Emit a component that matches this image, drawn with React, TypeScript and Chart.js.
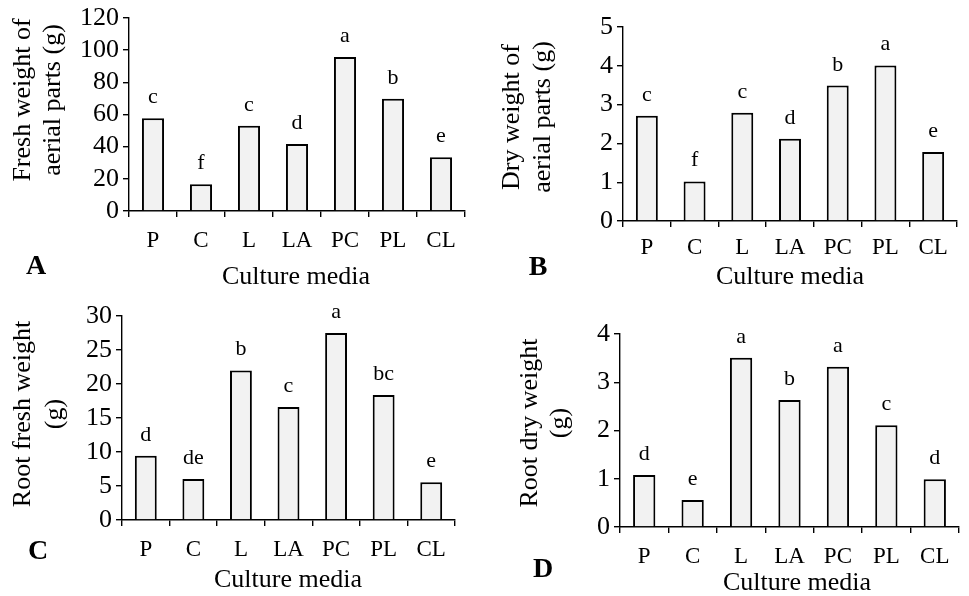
import React, { useEffect, useRef } from "react";
import { Chart, registerables } from "chart.js";

Chart.register(...registerables);

// ---------- data ----------
const categories = ["P", "C", "L", "LA", "PC", "PL", "CL"];

const freshAerial = [57.6, 16.6, 53, 41.7, 95.8, 69.8, 33.4];
const freshAerialLetters = ["c", "f", "c", "d", "a", "b", "e"];

const dryAerial = [2.71, 1.02, 2.79, 2.12, 3.49, 4.01, 1.78];
const dryAerialLetters = ["c", "f", "c", "d", "b", "a", "e"];

const rootFresh = [9.46, 6.03, 22.0, 16.6, 27.5, 18.4, 5.54];
const rootFreshLetters = ["d", "de", "b", "c", "a", "bc", "e"];

const rootDry = [1.08, 0.56, 3.51, 2.63, 3.32, 2.11, 0.99];
const rootDryLetters = ["d", "e", "a", "b", "a", "c", "d"];

const xTitle = "Culture media";
const yTitleA = ["Fresh weight of", "aerial parts (g)"];
const yTitleB = ["Dry weight of", "aerial parts (g)"];
const yTitleC = ["Root fresh weight", "(g)"];
const yTitleD = ["Root dry weight", "(g)"];
const panelLabels = ["A", "B", "C", "D"];

const yMaxA = 120, yStepA = 20;
const yMaxB = 5, yStepB = 1;
const yMaxC = 30, yStepC = 5;
const yMaxD = 4, yStepD = 1;

// ---------- layout ----------
const FONT = "'Liberation Serif', 'Times New Roman', serif";

type PanelCfg = {
  values: number[];
  letters: string[];
  yTitle: string[];
  panel: string;
  yMax: number;
  yStep: number;
  box: { left: number; top: number; w: number; h: number };
  pad: { left: number; top: number; right: number; bottom: number };
  xTickPad: number;
  yTitleX: [number, number];
  yTitleY: number;
  letterPos: [number, number];
  xTitlePos: [number, number];
};

const Y_W = 64;
const X_H = 44;

const panels: PanelCfg[] = [
  {
    values: freshAerial, letters: freshAerialLetters, yTitle: yTitleA, panel: panelLabels[0],
    yMax: yMaxA, yStep: yStepA,
    box: { left: 0, top: 0, w: 484, h: 298 },
    pad: { left: 129 - Y_W, top: 18, right: 484 - 465, bottom: 298 - 211 - X_H },
    xTickPad: 10,
    yTitleX: [23, 53], yTitleY: 100, letterPos: [36, 267], xTitlePos: [296, 277],
  },
  {
    values: dryAerial, letters: dryAerialLetters, yTitle: yTitleB, panel: panelLabels[1],
    yMax: yMaxB, yStep: yStepB,
    box: { left: 484, top: 0, w: 485, h: 298 },
    pad: { left: 139 - Y_W, top: 27, right: 485 - 473, bottom: 298 - 221 - X_H },
    xTickPad: 7,
    yTitleX: [28, 59], yTitleY: 117, letterPos: [54, 268], xTitlePos: [306, 277],
  },
  {
    values: rootFresh, letters: rootFreshLetters, yTitle: yTitleC, panel: panelLabels[2],
    yMax: yMaxC, yStep: yStepC,
    box: { left: 0, top: 298, w: 484, h: 298 },
    pad: { left: 122 - Y_W, top: 18, right: 484 - 455, bottom: 298 - 222 - X_H },
    xTickPad: 10,
    yTitleX: [23, 55], yTitleY: 116, letterPos: [38, 254], xTitlePos: [288, 282],
  },
  {
    values: rootDry, letters: rootDryLetters, yTitle: yTitleD, panel: panelLabels[3],
    yMax: yMaxD, yStep: yStepD,
    box: { left: 484, top: 298, w: 485, h: 298 },
    pad: { left: 136 - Y_W, top: 36, right: 485 - 475, bottom: 298 - 229 - X_H },
    xTickPad: 10,
    yTitleX: [46, 76], yTitleY: 125, letterPos: [59, 272], xTitlePos: [313, 285],
  },
];

function Panel({ cfg }: { cfg: PanelCfg }) {
  const ref = useRef<HTMLCanvasElement | null>(null);
  useEffect(() => {
    if (!ref.current) return;
    const textPlugin = {
      id: "panelText",
      afterDraw(chart: any) {
        const ctx = chart.ctx as CanvasRenderingContext2D;
        ctx.save();
        ctx.fillStyle = "#000";
        // significance letters
        ctx.font = `22px ${FONT}`;
        ctx.textAlign = "center";
        ctx.textBaseline = "alphabetic";
        const meta = chart.getDatasetMeta(0);
        meta.data.forEach((bar: any, i: number) => {
          ctx.fillText(cfg.letters[i], bar.x, bar.y - 15);
        });
        // x title
        ctx.font = `26px ${FONT}`;
        ctx.textBaseline = "middle";
        ctx.fillText(xTitle, cfg.xTitlePos[0], cfg.xTitlePos[1]);
        // y title
        cfg.yTitle.forEach((line, i) => {
          ctx.save();
          ctx.translate(cfg.yTitleX[i], cfg.yTitleY);
          ctx.rotate(-Math.PI / 2);
          ctx.fillText(line, 0, 0);
          ctx.restore();
        });
        // panel letter
        ctx.font = `bold 28px ${FONT}`;
        ctx.fillText(cfg.panel, cfg.letterPos[0], cfg.letterPos[1]);
        ctx.restore();
      },
    };

    const chart = new Chart(ref.current, {
      type: "bar",
      data: {
        labels: categories,
        datasets: [
          {
            data: cfg.values,
            backgroundColor: "#f2f2f2",
            borderColor: "#000",
            borderWidth: 2,
            barPercentage: 0.46,
            categoryPercentage: 1,
          },
        ],
      },
      options: {
        responsive: false,
        animation: false,
        devicePixelRatio: 1,
        layout: { padding: cfg.pad },
        plugins: { legend: { display: false }, tooltip: { enabled: false }, title: { display: false } },
        scales: {
          x: {
            grid: { display: true, drawOnChartArea: false, drawTicks: true, tickLength: 6, color: "#000", lineWidth: 1.4 },
            border: { display: true, color: "#000", width: 1.4 },
            ticks: { color: "#000", font: { family: FONT, size: 23 }, padding: cfg.xTickPad, maxRotation: 0, autoSkip: false },
            afterFit(scale: any) {
              scale.height = X_H;
              scale.paddingLeft = 0;
              scale.paddingRight = 0;
            },
          },
          y: {
            min: 0,
            max: cfg.yMax,
            grid: { display: true, drawOnChartArea: false, drawTicks: true, tickLength: 6, color: "#000", lineWidth: 1.4 },
            border: { display: true, color: "#000", width: 1.4 },
            ticks: { stepSize: cfg.yStep, color: "#000", font: { family: FONT, size: 26 }, padding: 4, autoSkip: false },
            afterFit(scale: any) {
              scale.width = Y_W;
              scale.paddingTop = 0;
              scale.paddingBottom = 0;
            },
          },
        },
      },
      plugins: [textPlugin],
    } as any);
    return () => chart.destroy();
  }, [cfg]);

  return (
    <canvas
      ref={ref}
      width={cfg.box.w}
      height={cfg.box.h}
      style={{
        position: "absolute",
        left: cfg.box.left,
        top: cfg.box.top,
        width: cfg.box.w,
        height: cfg.box.h,
      }}
    />
  );
}

export default function App() {
  return (
    <div style={{ position: "absolute", left: 0, top: 0, width: 969, height: 596, background: "#fff" }}>
      {panels.map((p) => (
        <Panel key={p.panel} cfg={p} />
      ))}
    </div>
  );
}
